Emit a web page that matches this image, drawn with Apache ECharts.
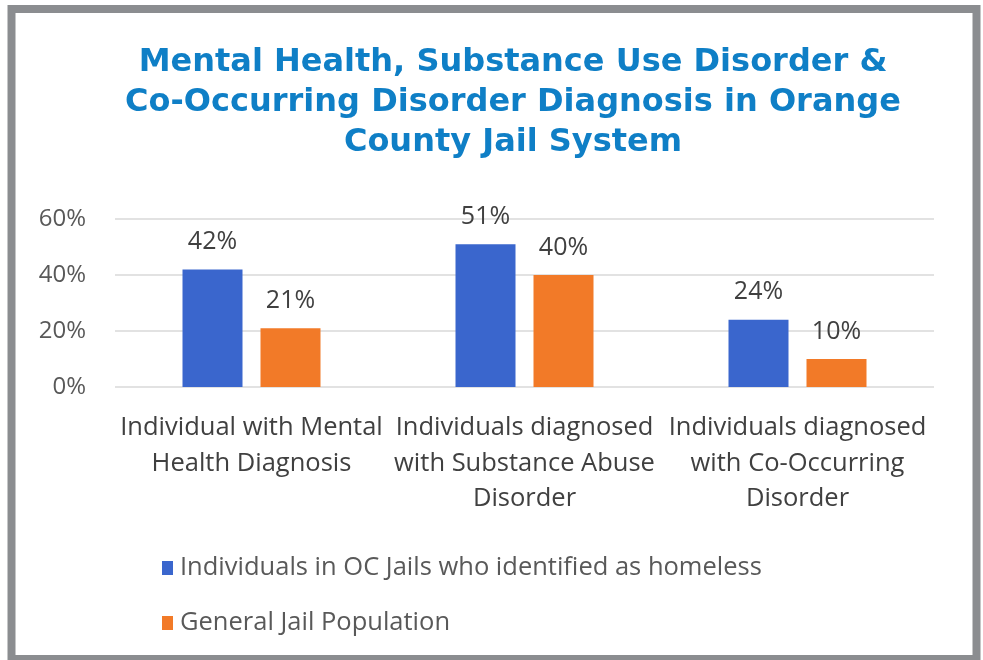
<!DOCTYPE html>
<html><head><meta charset="utf-8">
<script src="https://cdn.jsdelivr.net/npm/echarts@6/dist/echarts.min.js"></script>
<style>html,body{margin:0;padding:0;background:#fff}#c{width:983px;height:660px}</style>
</head><body><div id="c"></div>
<script>
const categories = ["Individual with Mental\nHealth Diagnosis", "Individuals diagnosed\nwith Substance Abuse\nDisorder", "Individuals diagnosed\nwith Co-Occurring\nDisorder"];
const homeless = [42, 51, 24];
const general = [21, 40, 10];
const seriesNames = ["Individuals in OC Jails who identified as homeless", "General Jail Population"];
const yTicks = [0, 20, 40, 60];

const chart = echarts.init(document.getElementById('c'), null, {renderer: 'canvas'});
const font = '"Open Sans", sans-serif';
chart.setOption({
  backgroundColor: '#ffffff',
  animation: false,
  title: {
    text: 'Mental Health, Substance Use Disorder &\nCo-Occurring Disorder Diagnosis in Orange\nCounty Jail System',
    left: 508, top: 38, textAlign: 'center',
    textStyle: {color: '#0f7fc6', fontSize: 32, fontWeight: 'bold', fontFamily: '"DejaVu Sans", sans-serif', lineHeight: 40}
  },
  legend: {
    orient: 'vertical', left: 157, top: 550, itemGap: 29,
    itemWidth: 11, itemHeight: 14, icon: 'rect',
    textStyle: {color: '#595959', fontSize: 25.5, fontFamily: font, padding: [0,0,0,2]},
    data: seriesNames
  },
  grid: {left: 115, right: 49, top: 219, bottom: 273, containLabel: false},
  xAxis: {
    type: 'category', data: categories,
    axisLine: {show: false}, axisTick: {show: false},
    axisLabel: {color: '#404040', fontSize: 25.5, fontFamily: font, lineHeight: 35.5, margin: 23, interval: 0}
  },
  yAxis: {
    type: 'value', min: 0, max: 60, interval: 20,
    axisLabel: {formatter: v => yTicks.includes(v) ? v + '%' : '', color: '#595959', fontSize: 24, fontFamily: font, margin: 29},
    splitLine: {lineStyle: {color: '#d9d9d9', width: 1.5}},
    axisLine: {show: false}, axisTick: {show: false}
  },
  series: [
    {name: seriesNames[0], type: 'bar', data: homeless, barWidth: 60, barGap: '30%',
     itemStyle: {color: '#3a66cd'},
     label: {show: true, position: 'top', distance: 15, formatter: '{c}%', color: '#404040', fontSize: 25, fontFamily: font}},
    {name: seriesNames[1], type: 'bar', data: general, barWidth: 60,
     itemStyle: {color: '#f27a28'},
     label: {show: true, position: 'top', distance: 15, formatter: '{c}%', color: '#404040', fontSize: 25, fontFamily: font}}
  ],
  graphic: [{
    type: 'rect', silent: true, z: 100,
    shape: {x: 11.5, y: 9, width: 965, height: 650},
    style: {fill: 'none', stroke: '#8b8d90', lineWidth: 8}
  }]
});
</script></body></html>
